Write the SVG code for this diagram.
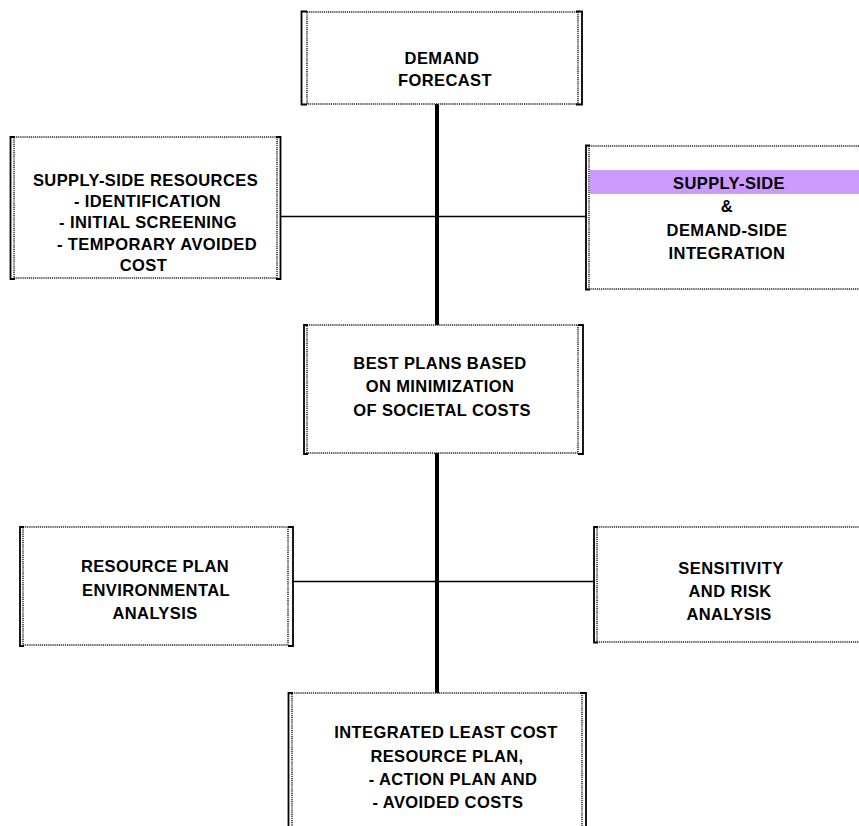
<svg xmlns="http://www.w3.org/2000/svg" width="859" height="826" viewBox="0 0 859 826">
<style>
.dot{fill:none;stroke:#222;stroke-width:1.5;stroke-dasharray:1.2 0.9}
.br{fill:none;stroke:#000;stroke-width:1.8}
.bg{fill:#fff}
text{font-family:"Liberation Sans",Arial,sans-serif;font-weight:bold;font-size:16.5px;fill:#000;text-anchor:middle;letter-spacing:0.4px}
.c{stroke:#000;fill:none}
</style>
<rect width="859" height="826" fill="#fff"/>
<g id="connectors">
<line class="c" x1="437" y1="104" x2="437" y2="326" stroke-width="4"/>
<line class="c" x1="437" y1="453" x2="437" y2="694" stroke-width="4"/>
<line class="c" x1="280" y1="216.5" x2="587" y2="216.5" stroke-width="1.6"/>
<line class="c" x1="293" y1="581.5" x2="595" y2="581.5" stroke-width="1.6"/>
</g>
<g id="demand-forecast">
<rect class="bg dot" x="307" y="12" width="271" height="92"/>
<path class="br" d="M307,11.5 H301.5 V104.5 H307 M576,11.5 H582 V104.5 H576"/>
<text x="442" y="64">DEMAND</text>
<text x="445" y="86">FORECAST</text>
</g>
<g id="supply-side-resources">
<rect class="bg dot" x="14" y="137" width="263" height="141"/>
<path class="br" d="M15,137 H10.5 V279 H15 M276,137 H280.5 V279 H276"/>
<text x="145.5" y="186">SUPPLY-SIDE RESOURCES</text>
<text x="147.5" y="207">- IDENTIFICATION</text>
<text x="148" y="228">- INITIAL  SCREENING</text>
<text x="157" y="250">- TEMPORARY AVOIDED</text>
<text x="143.5" y="271">COST</text>
</g>
<g id="supply-demand-integration">
<rect class="bg dot" x="589" y="146" width="290" height="143"/>
<path class="br" d="M590,145.5 H586 V289.5 H590"/>
<rect x="590" y="170" width="269" height="24" fill="#cc99ff"/>
<text x="729" y="189">SUPPLY-SIDE</text>
<text x="727" y="212">&amp;</text>
<text x="727" y="236">DEMAND-SIDE</text>
<text x="727" y="259">INTEGRATION</text>
</g>
<g id="best-plans">
<rect class="bg dot" x="307" y="325" width="271" height="128"/>
<path class="br" d="M308,325 H304 V454 H308 M578,325 H583 V454 H578"/>
<text x="440" y="369">BEST PLANS BASED</text>
<text x="440" y="392">ON MINIMIZATION</text>
<text x="442" y="416">OF SOCIETAL COSTS</text>
</g>
<g id="resource-plan-environmental">
<rect class="bg dot" x="23" y="527" width="265" height="118"/>
<path class="br" d="M24,527 H20 V646 H24 M288,527 H293 V646 H288"/>
<text x="155" y="572">RESOURCE PLAN</text>
<text x="156" y="596">ENVIRONMENTAL</text>
<text x="155" y="619">ANALYSIS</text>
</g>
<g id="sensitivity-risk">
<rect class="bg dot" x="597" y="527" width="280" height="115"/>
<path class="br" d="M598,527 H594 V642.5 H598"/>
<text x="731" y="574">SENSITIVITY</text>
<text x="730" y="597">AND RISK</text>
<text x="729" y="620">ANALYSIS</text>
</g>
<g id="integrated-plan">
<rect class="bg dot" x="292" y="693" width="290" height="150"/>
<path class="br" d="M293,693 H288.5 V840 M580,693 H586 V840"/>
<text x="446" y="738">INTEGRATED LEAST COST</text>
<text x="447" y="762">RESOURCE PLAN,</text>
<text x="453" y="785">- ACTION PLAN AND</text>
<text x="448" y="808">- AVOIDED COSTS</text>
</g>
</svg>
